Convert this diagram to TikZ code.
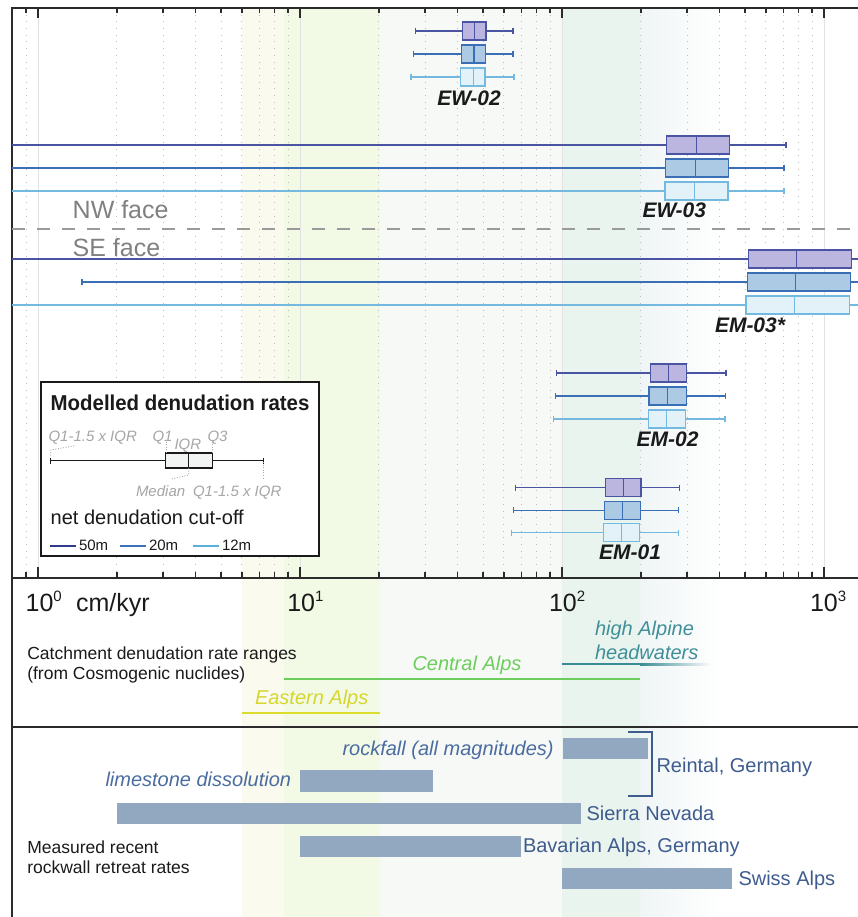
\documentclass[tikz,border=0pt]{standalone}
\usepackage{fontspec}
\setmainfont{Liberation Sans}
\newfontfamily\titlefont[FakeStretch=0.95]{Liberation Sans}
\usetikzlibrary{positioning}

\definecolor{frameC}{HTML}{2B2B2B}
\definecolor{textC}{HTML}{1A1A1A}
\definecolor{gridsolid}{HTML}{E2E2E2}
\definecolor{gridgray}{HTML}{BDBDBD}
\definecolor{bordA}{HTML}{4B53A3}
\definecolor{fillA}{HTML}{BBB6E0}
\definecolor{bordB}{HTML}{3B6FB5}
\definecolor{fillB}{HTML}{ADCAE4}
\definecolor{bordC}{HTML}{74BAE0}
\definecolor{fillC}{HTML}{E3F1F8}
\definecolor{lgA}{HTML}{2F3C8C}
\definecolor{lgB}{HTML}{3A72B8}
\definecolor{lgC}{HTML}{5BAFDD}
\definecolor{bandE}{HTML}{FAFAEF}
\definecolor{bandEC}{HTML}{F2F9E5}
\definecolor{bandC}{HTML}{F6F9F5}
\definecolor{bandCH}{HTML}{EAF4EE}
\definecolor{bandH}{HTML}{EFF5F6}
\definecolor{eastC}{HTML}{DCDC2C}
\definecolor{eastT}{HTML}{D5D72E}
\definecolor{centralC}{HTML}{6DCD5C}
\definecolor{alpineC}{HTML}{3A8B93}
\definecolor{alpineT}{HTML}{3F8F98}
\definecolor{barC}{HTML}{92A8C1}
\definecolor{siteT}{HTML}{3E5C8E}
\definecolor{procT}{HTML}{4B6CA0}
\definecolor{leadC}{HTML}{A6A6A6}
\definecolor{faceC}{HTML}{808080}
\definecolor{dashC}{HTML}{9A9A9A}
\definecolor{legboxC}{HTML}{F2F4F4}

\newcommand{\expo}[1]{\raisebox{10pt}{\fontsize{15}{15}\selectfont #1}}

\begin{document}
\begin{tikzpicture}[
  x=1pt, y=-1pt,
  every node/.style={inner sep=0pt, outer sep=0pt, anchor=base west, text=textC},
  frameline/.style={draw=frameC, line width=1.3pt},
  decade/.style={draw=gridsolid, line width=1pt},
  minorgrid/.style={draw=gridgray, line width=0.9pt, dash pattern=on 0.9pt off 5.8pt},
  whiskA/.style={draw=bordA, line width=1.2pt},
  whiskB/.style={draw=bordB, line width=1.2pt},
  whiskC/.style={draw=bordC, line width=1.2pt},
  boxA/.style={draw=bordA, fill=fillA, line width=1.5pt},
  boxB/.style={draw=bordB, fill=fillB, line width=1.5pt},
  boxC/.style={draw=bordC, fill=fillC, line width=1.5pt},
  sitelabel/.style={anchor=base, font=\fontsize{21}{25}\selectfont\bfseries\itshape},
  facelabel/.style={text=faceC, font=\fontsize{25}{30}\selectfont},
  axislabel/.style={font=\fontsize{25}{30}\selectfont},
  sectionlabel/.style={font=\fontsize{17.5}{20}\selectfont},
  rangelabel/.style={font=\fontsize{20}{24}\selectfont\itshape},
  rangeline/.style={line width=1.8pt},
  bar/.style={fill=barC},
  barlabel/.style={text=siteT, font=\fontsize{20}{24}\selectfont},
  proclabel/.style={text=procT, font=\fontsize{20}{24}\selectfont\itshape},
  legendframe/.style={draw=textC, fill=white, line width=1.6pt},
  leader/.style={draw=leadC, line width=0.8pt, dash pattern=on 1pt off 1.6pt},
  leglabel/.style={text=leadC, font=\fontsize{15}{18}\selectfont\itshape},
  legkey/.style={line width=1.8pt},
  keylabel/.style={font=\fontsize{15}{18}\selectfont}
]
\useasboundingbox (0,0) rectangle (858,917);

% catchment ranges behind everything
\fill[bandE] (242,8) rectangle (284,917);
\fill[bandEC] (284,8) rectangle (380,917);
\fill[bandC] (380,8) rectangle (562,917);
\fill[bandCH] (562,8) rectangle (640,917);
\shade[left color=bandH, right color=white] (640,8) rectangle (722,917);

% log axis: 10^0 at 38, one decade = 262
\begin{scope}
  \clip (12,8) rectangle (858,578);
  \foreach \d in {-1,0,1,2,3} {
    \draw[decade] ({38+262*\d},8) -- ++(0,570);
    \draw[frameline] ({38+262*\d},8) -- ++(0,10) ({38+262*\d},578) -- ++(0,-11);
    \foreach \m in {2,...,9} {
      \draw[minorgrid] ({38+262*(\d+log10(\m))},8) -- ++(0,570);
      \draw[frameline] ({38+262*(\d+log10(\m))},8) -- ++(0,5)
        ({38+262*(\d+log10(\m))},578) -- ++(0,-6);
    }
  }
\end{scope}

\draw[frameline] (858,8) -- (12,8) -- (12,917);
\draw[frameline] (12,578) -- (858,578) (12,727) -- (858,727);

% NW / SE split
\draw[dashC, line width=1.5pt, dash pattern=on 12.5pt off 12.5pt] (12,229) -- (858,229);
\node[facelabel] (nwface) at (72.7,218.3) {NW face};
\node[facelabel] (seface) at (72.7,256) {SE face};

% boxes: y / whisker lo / Q1 / median / Q3 / whisker hi / cut-off
\begin{scope}
  \clip (12,8) rectangle (858,578);
  \foreach \y/\lw/\qa/\md/\qb/\uw/\k in {
    31/415.7/462.3/474.7/486/513/A, 54/413.3/461.7/474/485.7/513/B, 77/411/460.7/473.3/485/514/C,
    145/-20/666.3/696.7/729.7/786/A, 168/-20/665.7/695.7/728.7/784/B, 191/-20/665/694.7/728/784/C,
    259/-20/748.3/796.7/851.3/900/A, 282/82/747.3/795.7/850.3/900/B, 305/-20/746/794.7/849.7/900/C,
    373/556.7/650.3/668.3/686.7/726/A, 396/555.3/649/667.3/686.3/725.3/B, 419/553.7/648.7/666.7/685.7/725/C,
    487.7/515.7/605.7/623.3/641/679.3/A, 510.3/513.7/604.3/622.3/640.3/678.7/B, 532.7/511.3/603.3/621.3/639.7/678.3/C}
  {
    \draw[whisk\k] (\lw,\y) -- (\qa,\y) (\qb,\y) -- (\uw,\y)
      (\lw,\y-3) -- (\lw,\y+3) (\uw,\y-3) -- (\uw,\y+3);
    \draw[box\k] (\qa,\y-9) rectangle (\qb,\y+9);
    \draw[box\k, fill=none] (\md,\y-9) -- (\md,\y+9);
  }
\end{scope}

\node[sitelabel] (ew02) at (469,106) {EW-02};
\node[sitelabel] (ew03) at (674.3,217.3) {EW-03};
\node[sitelabel] (em03) at (750,332.3) {EM-03*};
\node[sitelabel] (em02) at (667.5,446.7) {EM-02};
\node[sitelabel] (em01) at (630,559.3) {EM-01};

% legend
\draw[legendframe] (41,381.7) rectangle (319,555.7);
\node[font=\titlefont\fontsize{21.5}{25}\selectfont\bfseries] (legtitle) at (50.7,410) {Modelled denudation rates};
\draw[frameline, draw=textC] (50.7,460.5) -- (165.7,460.5) (212.7,460.5) -- (263.3,460.5)
  (50.7,457.5) -- (50.7,463.5) (263.3,457.5) -- (263.3,463.5);
\draw[frameline, draw=textC, fill=legboxC] (165.7,453) rectangle (212.7,468);
\draw[frameline, draw=textC] (188.7,453) -- (188.7,468);
\coordinate (lglo) at (50.7,455.7);
\coordinate (lgq1) at (166,453);
\coordinate (lgq3) at (212.3,453);
\coordinate (lgmed) at (188.7,468);
\coordinate (lghi) at (263.3,462);
\node[leglabel] (lgloLab) at (48.5,441.7) {Q1-1.5 x IQR};
\node[leglabel] (lgq1Lab) at (152.5,441.7) {Q1};
\node[leglabel] (lgiqrLab) at (174.5,449) {IQR};
\node[leglabel] (lgq3Lab) at (207.5,441.7) {Q3};
\node[leglabel] (lgmedLab) at (136,496.7) {Median};
\node[leglabel] (lghiLab) at (193,496.7) {Q1-1.5 x IQR};
\draw[leader] (lglo) -- ++(0,-5.7) -- (75,445.7);
\draw[leader] (lgq1) -- ++(0,-11);
\draw[leader] (lgq3) -- ++(0,-11);
\draw[leader] (lgmed) -- ++(0,7) -- (171.7,479);
\draw[leader] (lghi) -- ++(0,18);
\node[font=\fontsize{20}{24}\selectfont] (cutoff) at (50.7,524) {net denudation cut-off};
\draw[legkey, lgA] (50,546) -- (76,546);
\node[keylabel] (key50) at (79,550.7) {50m};
\draw[legkey, lgB] (120,546) -- (146,546);
\node[keylabel] (key20) at (149,550.7) {20m};
\draw[legkey, lgC] (193,546) -- (219,546);
\node[keylabel] (key12) at (222,550.7) {12m};

% axis labels
\node[axislabel] (t0) at (25.6,611.7) {10\expo{0}};
\node[axislabel] (unit) at (76,611.7) {cm/kyr};
\node[axislabel] (t1) at (287.3,611.7) {10\expo{1}};
\node[axislabel] (t2) at (549,611.7) {10\expo{2}};
\node[axislabel] (t3) at (810,611.7) {10\expo{3}};

% cosmogenic catchment ranges
\node[sectionlabel] (catch1) at (27.3,659) {Catchment denudation rate ranges};
\node[sectionlabel] (catch2) at (27.3,679) {(from Cosmogenic nuclides)};
\draw[rangeline, eastC] (242,712.7) -- (380,712.7);
\node[rangelabel, text=eastT] (eastern) at (255,704) {Eastern Alps};
\draw[rangeline, centralC] (284,679.3) -- (640,679.3);
\node[rangelabel, text=centralC] (central) at (412.5,670) {Central Alps};
\draw[rangeline, alpineC] (562,664.3) -- (641,664.3);
\shade[left color=alpineC, right color=white] (640,663.4) rectangle (712,665.2);
\node[rangelabel, text=alpineT] (alpine1) at (595,635) {high Alpine};
\node[rangelabel, text=alpineT] (alpine2) at (595,659.3) {headwaters};

% rockwall retreat
\node[sectionlabel] (meas1) at (27.3,853.3) {Measured recent};
\node[sectionlabel] (meas2) at (27.3,873.3) {rockwall retreat rates};
\fill[bar] (563.3,737.7) rectangle (648.3,759.3);
\node[proclabel] (rockfall) at (342.5,755) {rockfall (all magnitudes)};
\fill[bar] (300,770) rectangle (432.5,791.7);
\node[proclabel] (limestone) at (105.5,786.7) {limestone dissolution};
\draw[siteT, line width=2pt] (628,731.7) -| (652.3,795.7) -- (628,795.7);
\node[barlabel] (reintal) at (656.5,772.7) {Reintal, Germany};
\fill[bar] (117,802.7) rectangle (580.7,824);
\node[barlabel] (sierra) at (586.5,820) {Sierra Nevada};
\fill[bar] (300.3,835.7) rectangle (521.3,856.7);
\node[barlabel] (bavarian) at (523,852.7) {Bavarian Alps, Germany};
\fill[bar] (562.3,868) rectangle (732.3,889);
\node[barlabel] (swiss) at (738.5,885.3) {Swiss Alps};
\end{tikzpicture}
\end{document}
